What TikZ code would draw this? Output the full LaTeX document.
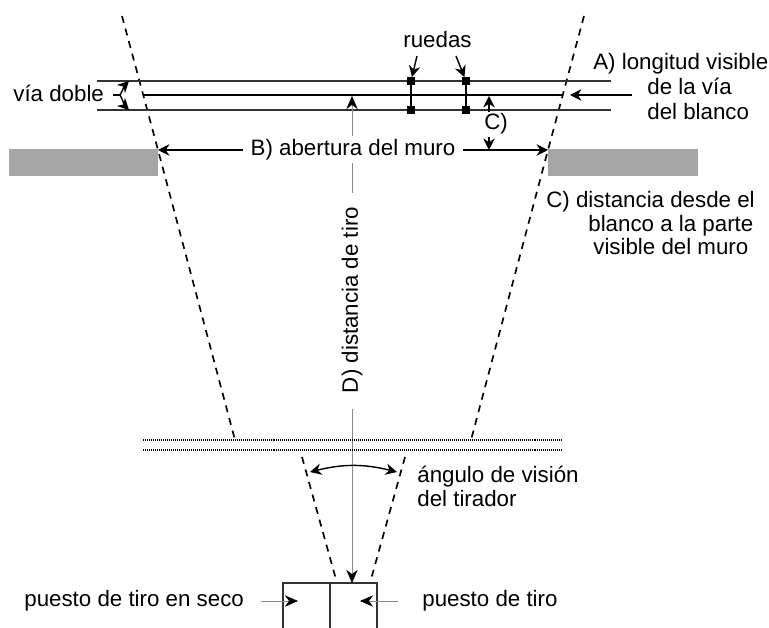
\documentclass[tikz,border=0pt]{standalone}
\usepackage{fontspec}
\usepackage{tikz}
\usetikzlibrary{arrows.meta}
\setmainfont{Liberation Sans}
\definecolor{railcol}{HTML}{333333}
\definecolor{wallcol}{HTML}{A6A6A6}
\definecolor{axiscol}{HTML}{8C8C8C}
\tikzset{
  every node/.style={font=\fontsize{12.7}{15}\selectfont},
  txt/.style={anchor=base west, inner sep=0pt},
  sight/.style={line width=0.95pt, dash pattern=on 4pt off 3.4pt},
  rail/.style={line width=0.9pt, color=railcol},
  arr/.style={line width=0.8pt, -{Stealth[length=6.5pt,width=6.5pt]}},
  thinarr/.style={line width=0.4pt, color=axiscol, -{Stealth[length=7.5pt,width=6.5pt,color=black]}},
  wall/.style={fill=wallcol, draw=none},
  hedge/.style={line width=0.6pt, dash pattern=on 0.567pt off 0.567pt},
  wheel/.style={fill=black, draw=none, minimum size=4pt, inner sep=0pt}
}
\begin{document}
\begin{tikzpicture}[x=0.02cm,y=-0.02cm]
\useasboundingbox (0,0) rectangle (769,628);
% muro
\fill[wall] (9,149) rectangle (158,176);
\fill[wall] (548,149) rectangle (698,176);
% lineas de vision
\coordinate [] (VL) at (122,16);
\coordinate [] (WL) at (158,150);
\coordinate [] (FL) at (235,440);
\coordinate [] (VR) at (584,16);
\coordinate [] (WR) at (548,150);
\coordinate [] (FR) at (471,440);
\draw[sight] (VL) -- (WL) -- (FL);
\draw[sight] (VR) -- (WR) -- (FR);
\draw[sight] (302,457) coordinate (EL) -- (337,583) coordinate (SL);
\draw[sight] (405,457) coordinate (ER) -- (370,583) coordinate (SR);
% via
\draw[rail] (97,81) coordinate (R1a) -- (611,81) coordinate (R1b);
\draw[rail] (97,110) coordinate (R2a) -- (611,110) coordinate (R2b);
\draw[line width=1.3pt] (143,95) coordinate (TL) -- (562,95) coordinate (TR);
% ruedas
\node[wheel] (W1a) at (411,81) {};
\node[wheel] (W1b) at (411,110) {};
\node[wheel] (W2a) at (466,81) {};
\node[wheel] (W2b) at (466,110) {};
\draw[line width=0.8pt] (W1a) -- (W1b);
\draw[line width=0.8pt] (W2a) -- (W2b);
\node[txt] (ruedas) at (403,48) {ruedas};
\coordinate [] (RS1) at (417,56);
\coordinate [] (RS2) at (456,56);
\draw[arr] (RS1) -- (W1a);
\draw[arr] (RS2) -- (W2a);
% via doble
\node[txt] (doble) at (13,102) {vía doble};
\coordinate [] (Bs) at (113,95);
\coordinate [] (Bm) at (120,95);
\coordinate [] (Bt) at (129,81);
\coordinate [] (Bb) at (129,110);
\draw[line width=0.7pt] (Bs) -- (Bm);
\draw[arr] (Bm) to[out=60,in=-135] (Bt);
\draw[arr] (Bm) to[out=-60,in=135] (Bb);
% A
\node[txt] (A1) at (593,70) {A) longitud visible};
\node[txt] (A2) at (647,95) {de la vía};
\node[txt] (A3) at (647,120) {del blanco};
\coordinate [] (As) at (632,95);
\coordinate [] (At) at (570,95);
\draw[arr] (As) -- (At);
% B
\node[inner ysep=0pt, inner xsep=4pt] (Blab) at (353,150) {B) abertura del muro};
\draw[arr] (Blab) -- (WL);
\draw[arr] (Blab) -- (WR);
% C
\node[txt] (Cm) at (484,130) {C)};
\coordinate [] (Ct) at (489,96);
\coordinate [] (Cb) at (489,150);
\draw[arr] (489,112) coordinate (Cu) -- (Ct);
\draw[arr] (489,137) coordinate (Cd) -- (Cb);
\node[txt] (C1) at (546,208) {C) distancia desde el};
\node[txt] (C2) at (588,232) {blanco a la parte};
\node[txt] (C3) at (593,255) {visible del muro};
% D
\node[inner sep=0pt, rotate=90] (Dlab) at (352,300) {D) distancia de tiro};
\coordinate [] (Dt) at (352,96);
\coordinate [] (Db) at (352,583);
\draw[thinarr] (352,136) coordinate (Dg) -- (Dt);
\draw[line width=0.4pt, color=axiscol] (352,163) coordinate (Dh) -- (352,193) coordinate (Di);
\draw[thinarr] (352,409) coordinate (Dj) -- (Db);
% linea de fuego
\draw[hedge] (143,440) coordinate (H1a) -- (563,440) coordinate (H1b);
\draw[hedge] (143,450) coordinate (H2a) -- (563,450) coordinate (H2b);
% angulo
\coordinate [] (AngL) at (310,472);
\coordinate [] (AngR) at (397,472);
\draw[line width=0.8pt, {Stealth[length=6.5pt,width=6.5pt]}-{Stealth[length=6.5pt,width=6.5pt]}] (AngL) to[bend left=14] (AngR);
\node[txt] (ang1) at (417,483) {ángulo de visión};
\node[txt] (ang2) at (417,507) {del tirador};
% puestos
\draw[line width=1pt, color=railcol] (283,628) coordinate (Pa) -- (283,583) coordinate (Pb) -- (377,583) coordinate (Pc) -- (377,628) coordinate (Pd);
\draw[line width=1pt, color=railcol] (330,583) coordinate (Pe) -- (330,628) coordinate (Pf);
\node[txt] (seco) at (24,607) {puesto de tiro en seco};
\node[txt] (tiro) at (422,607) {puesto de tiro};
\coordinate [] (Ss) at (261,601);
\coordinate [] (St) at (298,601);
\coordinate [] (Ts) at (398,601);
\coordinate [] (Tt) at (360,601);
\draw[thinarr] (Ss) -- (St);
\draw[thinarr] (Ts) -- (Tt);
\end{tikzpicture}
\end{document}
